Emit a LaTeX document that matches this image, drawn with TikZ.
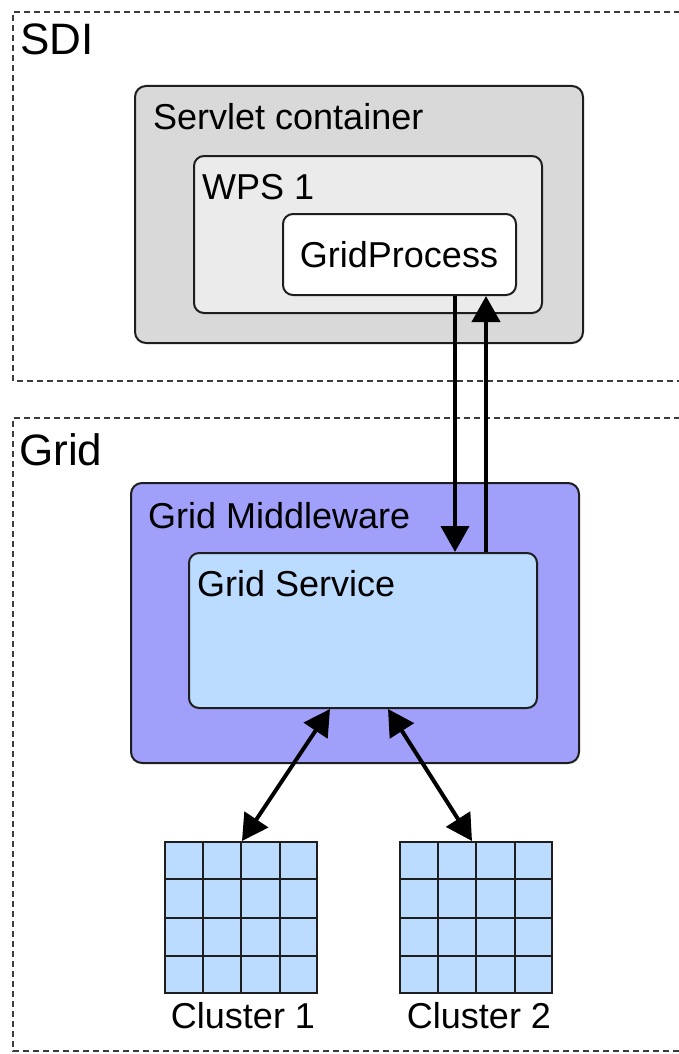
\documentclass[tikz,border=0pt]{standalone}
\usepackage{fontspec}
\setmainfont{Liberation Sans}
\usetikzlibrary{arrows.meta,calc}
\definecolor{scfill}{RGB}{217,217,217}
\definecolor{wpsfill}{RGB}{235,235,235}
\definecolor{gmfill}{RGB}{160,160,250}
\definecolor{gsfill}{RGB}{187,219,255}
\definecolor{edge}{RGB}{30,30,30}
\definecolor{dashcol}{RGB}{60,60,60}
\tikzset{
  region/.style={draw=dashcol, line width=2.2pt, dash pattern=on 6pt off 4pt},
  rbox/.style={draw=edge, line width=2pt, rounded corners=11pt, anchor=north west, inner sep=0pt},
  lbl/.style={inner sep=0pt, font=\fontsize{36}{40}\selectfont, text=black},
  biglbl/.style={inner sep=0pt, font=\fontsize{44}{48}\selectfont, text=black},
  flow/.style={line width=4pt, -{Triangle[length=26pt,width=28pt]}},
  bidir/.style={line width=4pt, {Triangle[length=26pt,width=28pt]}-{Triangle[length=26pt,width=28pt]}},
  cluster/.style={draw=edge, line width=2pt, fill=gsfill, minimum width=152pt, minimum height=151pt, inner sep=0pt},
}
\begin{document}
\begin{tikzpicture}[x=1pt,y=-1pt]
\useasboundingbox[fill=white] (0,0) rectangle (678,1054);
% regions
\draw[region] (700,12) -- (13,12) -- (13,381) -- (700,381);
\draw[region] (700,418) -- (13,418) -- (13,1051) -- (700,1051);
\node[biglbl, anchor=base west] (sdi) at (20,55) {SDI};
\node[biglbl, anchor=base west] (grid) at (19,465) {Grid};
% SDI boxes
\node[rbox, fill=scfill, minimum width=448pt, minimum height=257pt] (sc) at (134,85) {};
\node[lbl, anchor=base west] (tsc) at ($(sc.north west)+(19,44)$) {Servlet container};
\node[rbox, fill=wpsfill, minimum width=348pt, minimum height=157pt, rounded corners=10pt] (wps) at (193,155) {};
\node[lbl, anchor=base west] (twps) at ($(wps.north west)+(9,44)$) {WPS 1};
\node[rbox, fill=white, minimum width=233pt, minimum height=81pt, rounded corners=10pt] (gp) at (282,213) {};
\node[lbl, anchor=base] (tgp) at (399,267) {GridProcess};
% Grid boxes
\node[rbox, fill=gmfill, minimum width=448pt, minimum height=280pt] (gm) at (130,482) {};
\node[lbl, anchor=base west] (tgm) at ($(gm.north west)+(18,46)$) {Grid Middleware};
\node[rbox, fill=gsfill, minimum width=348pt, minimum height=155pt, rounded corners=10pt] (gs) at (188,552) {};
\node[lbl, anchor=base west] (tgs) at ($(gs.north west)+(9,44)$) {Grid Service};
% clusters
\node[cluster] (c1) at (241,917.5) {};
\node[cluster] (c2) at (476,917.5) {};
\foreach \c in {c1,c2}{
  \foreach \i in {1,2,3}{
    \draw[edge, line width=2pt] ($(\c.north west)!\i/4!(\c.north east)$) -- ($(\c.south west)!\i/4!(\c.south east)$);
    \draw[edge, line width=2pt] ($(\c.north west)!\i/4!(\c.south west)$) -- ($(\c.north east)!\i/4!(\c.south east)$);
  }
}
\node[lbl, anchor=base] (tc1) at ($(c1.south)+(2,34)$) {Cluster 1};
\node[lbl, anchor=base] (tc2) at ($(c2.south)+(3,34)$) {Cluster 2};
% connectors
\coordinate (xd) at (455,0);
\coordinate (xu) at (486,0);
\draw[flow] (gp.south -| xd) -- (gs.north -| xd);
\draw[flow] (gs.north -| xu) -- (gp.south -| xu);
\draw[bidir] ($(gs.south west)+(142,0)$) -- ($(c1.north west)+(78,0)$);
\draw[bidir] ($(gs.south west)+(200,0)$) -- ($(c2.north west)+(73,0)$);
\end{tikzpicture}
\end{document}
